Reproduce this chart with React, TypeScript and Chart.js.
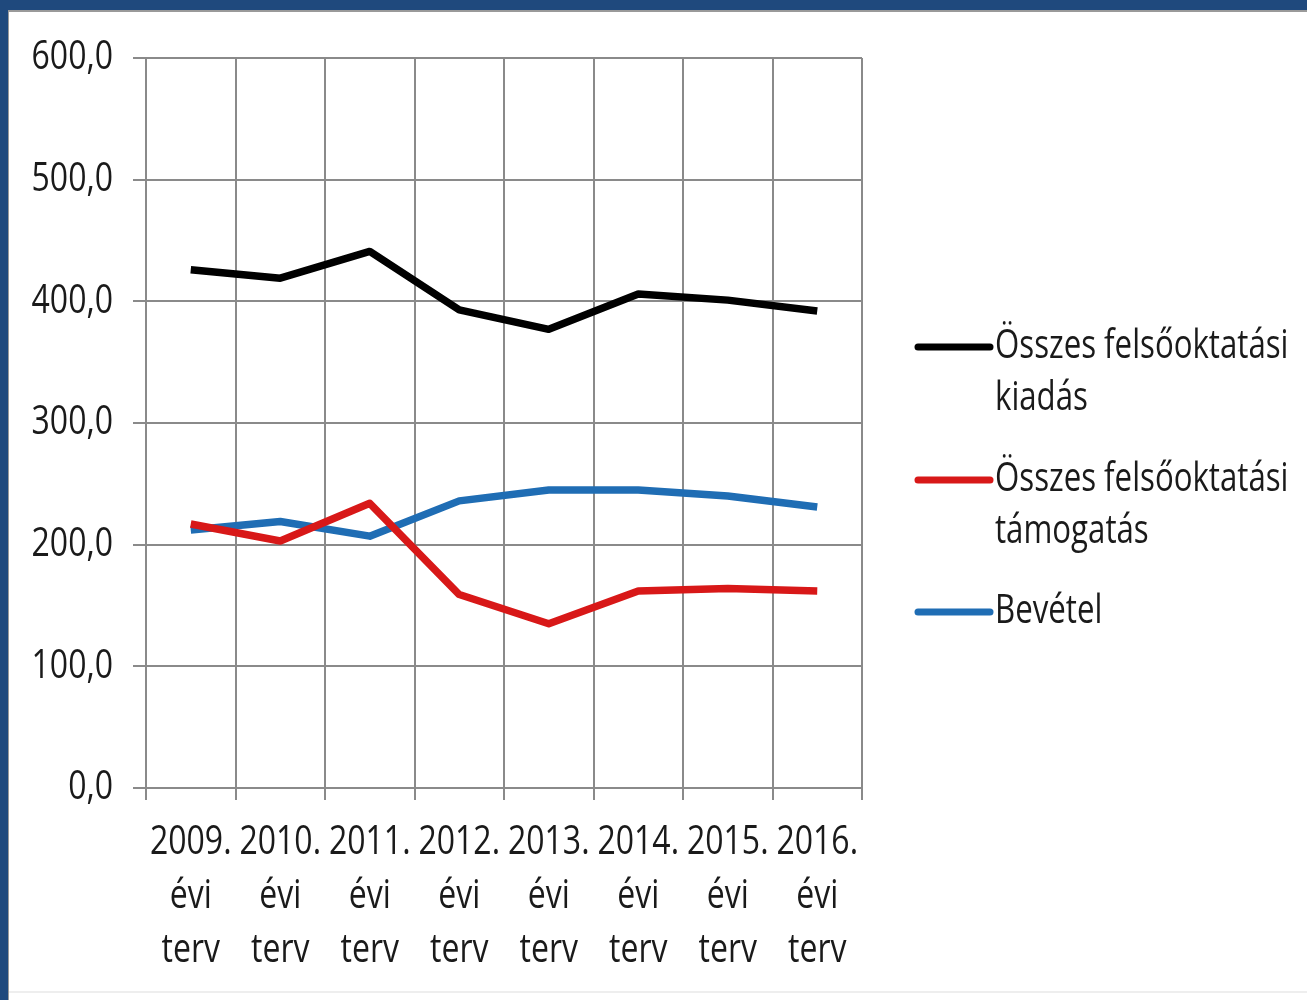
import React, { useEffect, useRef } from "react";
import { Chart, registerables } from "chart.js";

Chart.register(...registerables);

const categories: string[][] = [
  ["2009.", "évi", "terv"],
  ["2010.", "évi", "terv"],
  ["2011.", "évi", "terv"],
  ["2012.", "évi", "terv"],
  ["2013.", "évi", "terv"],
  ["2014.", "évi", "terv"],
  ["2015.", "évi", "terv"],
  ["2016.", "évi", "terv"],
];

const kiadas = [426, 419, 441, 393, 377, 406, 401, 392];
const tamogatas = [217, 203, 234, 159, 135, 162, 164, 162];
const bevetel = [212, 219, 207, 236, 245, 245, 240, 231];

const legendLabels: string[][] = [
  ["Összes felsőoktatási", "kiadás"],
  ["Összes felsőoktatási", "támogatás"],
  ["Bevétel"],
];

const seriesColors = ["#000000", "#d81818", "#1f6db4"];

const FONT = "'Open Sans', 'Noto Sans', sans-serif";
const FONT_SIZE = 40;
const AXIS_SX = 0.8;
const LEGEND_SX = 0.78;
const TEXT_COLOR = "#1a1a1a";
const W = 1307;
const H = 1000;

function drawText(ctx: any, text: string, x: number, y: number, sx: number, align: string) {
  ctx.save();
  ctx.translate(x, y);
  ctx.scale(sx, 1);
  ctx.textAlign = align;
  ctx.fillText(text, 0, 0);
  ctx.restore();
}

const framePlugin = {
  id: "frame",
  beforeDraw(chart: any) {
    const ctx = chart.ctx;
    ctx.save();
    ctx.fillStyle = "#ffffff";
    ctx.fillRect(0, 0, W, H);
    ctx.fillStyle = "#1f497d";
    ctx.fillRect(0, 0, W, 10);
    ctx.fillRect(0, 0, 8, H);
    ctx.fillStyle = "#9a9a9a";
    ctx.fillRect(8, 10, W - 8, 2);
    ctx.fillRect(8, 10, 1, H - 10);
    ctx.fillStyle = "#eeeeee";
    ctx.fillRect(9, 991, W - 9, 2);
    ctx.restore();
  },
};

const labelsPlugin = {
  id: "axisLabels",
  afterDraw(chart: any) {
    const ctx = chart.ctx;
    const xs = chart.scales.x;
    const ys = chart.scales.y;
    ctx.save();
    ctx.font = `${FONT_SIZE}px ${FONT}`;
    ctx.fillStyle = TEXT_COLOR;
    ctx.textBaseline = "middle";
    ys.ticks.forEach((t: any) => {
      const y = ys.getPixelForValue(t.value);
      const txt = Number(t.value).toFixed(1).replace(".", ",");
      drawText(ctx, txt, ys.right - 13 - 20, y, AXIS_SX, "right");
    });
    const lineH = 54;
    categories.forEach((lines, i) => {
      const x = xs.getPixelForTick(i);
      lines.forEach((line, j) => {
        drawText(ctx, line, x, xs.top + 12 + 16 + lineH / 2 + j * lineH, AXIS_SX, "center");
      });
    });
    ctx.restore();
  },
};

const legendPlugin = {
  id: "customLegend",
  afterDraw(chart: any) {
    const ctx = chart.ctx;
    const x0 = 918;
    const x1 = 990;
    const ys = [347, 480, 612];
    ctx.save();
    ctx.font = `${FONT_SIZE}px ${FONT}`;
    ctx.textBaseline = "middle";
    chart.data.datasets.forEach((ds: any, i: number) => {
      const y = ys[i];
      ctx.strokeStyle = ds.borderColor;
      ctx.lineWidth = 7;
      ctx.lineCap = "round";
      ctx.beginPath();
      ctx.moveTo(x0, y);
      ctx.lineTo(x1, y);
      ctx.stroke();
      ctx.fillStyle = TEXT_COLOR;
      legendLabels[i].forEach((line, j) => {
        drawText(ctx, line, 995, y + j * 52, LEGEND_SX, "left");
      });
    });
    ctx.restore();
  },
};

export default function App() {
  const ref = useRef<HTMLCanvasElement | null>(null);

  useEffect(() => {
    if (!ref.current) return;
    const gridColor = "#8a8a8a";
    const chart = new Chart(ref.current, {
      type: "line",
      data: {
        labels: categories,
        datasets: [
          { label: legendLabels[0].join(" "), data: kiadas, borderColor: seriesColors[0], backgroundColor: seriesColors[0] },
          { label: legendLabels[1].join(" "), data: tamogatas, borderColor: seriesColors[1], backgroundColor: seriesColors[1] },
          { label: legendLabels[2].join(" "), data: bevetel, borderColor: seriesColors[2], backgroundColor: seriesColors[2] },
        ],
      },
      options: {
        responsive: false,
        animation: false,
        devicePixelRatio: 1,
        layout: { padding: { left: 0, top: 58, right: W - 862, bottom: 0 } },
        elements: {
          line: { borderWidth: 7.5, tension: 0, borderCapStyle: "butt", borderJoinStyle: "round" },
          point: { radius: 0, hoverRadius: 0 },
        },
        plugins: {
          legend: { display: false },
          tooltip: { enabled: false },
          title: { display: false },
        },
        scales: {
          x: {
            type: "category",
            offset: true,
            grid: { offset: true, color: gridColor, lineWidth: 2, tickLength: 12, drawTicks: true },
            border: { color: gridColor, width: 2 },
            ticks: { display: false, autoSkip: false },
            afterFit(scale: any) {
              scale.height = H - 788;
            },
          },
          y: {
            min: 0,
            max: 600,
            grid: { color: gridColor, lineWidth: 2, tickLength: 13 },
            border: { color: gridColor, width: 2 },
            ticks: { display: false, stepSize: 100 },
            afterFit(scale: any) {
              scale.width = 146;
            },
          },
        },
      },
      plugins: [framePlugin, labelsPlugin, legendPlugin],
    });
    return () => chart.destroy();
  }, []);

  return (
    <div style={{ position: "fixed", left: 0, top: 0, width: W, height: H }}>
      <canvas ref={ref} width={W} height={H} style={{ width: W, height: H, display: "block" }} />
    </div>
  );
}
